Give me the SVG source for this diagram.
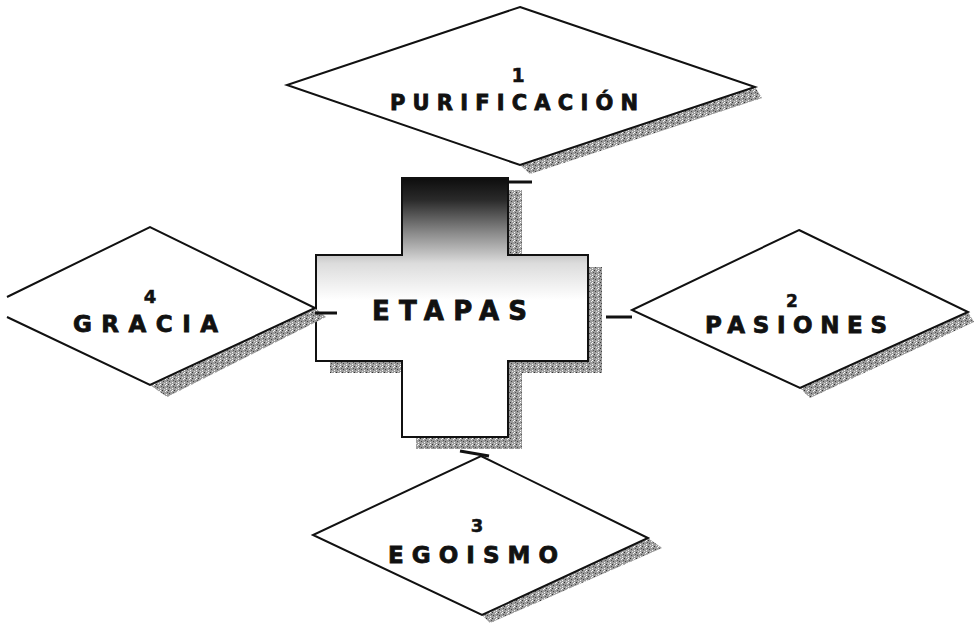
<svg xmlns="http://www.w3.org/2000/svg" width="974" height="623" viewBox="0 0 974 623">
  <style>
    .outline { fill: #ffffff; stroke: #111; stroke-width: 2; stroke-linejoin: miter; }
    .shadow { fill: url(#grain); stroke: none; }
    .label { font-family: "DejaVu Sans", "Open Sans", sans-serif; font-weight: bold; fill: #111; stroke: #111; stroke-width: 0.8; }
    .num { font-family: "DejaVu Sans", "Open Sans", sans-serif; font-weight: bold; fill: #111; stroke: #111; stroke-width: 0.5; text-anchor: middle; }
    .conn { stroke: #111; stroke-width: 3; fill: none; }
  </style>
  <defs>
    <pattern id="grain" width="6" height="6" patternUnits="userSpaceOnUse">
      <rect width="6" height="6" fill="#9c9c9c"/>
      <rect x="0" y="0" width="1" height="1" fill="#333"/>
      <rect x="3" y="1" width="1" height="1" fill="#eee"/>
      <rect x="1" y="3" width="1" height="1" fill="#444"/>
      <rect x="4" y="4" width="1" height="1" fill="#f5f5f5"/>
      <rect x="5" y="2" width="1" height="1" fill="#555"/>
      <rect x="2" y="5" width="1" height="1" fill="#ddd"/>
      <rect x="4" y="0" width="1" height="1" fill="#fff"/>
    </pattern>
    <linearGradient id="crossFill" gradientUnits="userSpaceOnUse" x1="0" y1="178" x2="0" y2="300">
      <stop offset="0" stop-color="#0d0d0d"/>
      <stop offset="0.18" stop-color="#2a2a2a"/>
      <stop offset="0.45" stop-color="#8a8a8a"/>
      <stop offset="0.7" stop-color="#dcdcdc"/>
      <stop offset="1" stop-color="#ffffff"/>
    </linearGradient>
  </defs>
  <rect width="974" height="623" fill="#ffffff"/>

  <g id="node-etapas">
    <path class="shadow" d="M416,190 H522 V267 H602 V373 H522 V449 H416 V373 H330 V267 H416 Z"/>
    <path d="M402,178 H508 V255 H588 V361 H508 V437 H402 V361 H316 V255 H402 Z" fill="url(#crossFill)" stroke="#111" stroke-width="2"/>
    <text class="label" x="372" y="320" font-size="26" textLength="155" lengthAdjust="spacing">ETAPAS</text>
  </g>

  <g id="node-purificacion">
    <polygon class="shadow" points="520,165 755,87 762,98 530,174"/>
    <polygon class="outline" points="520,7 755,87 520,165 287,85"/>
    <text class="num" x="518" y="82" font-size="19">1</text>
    <text class="label" x="390" y="110" font-size="21" textLength="248" lengthAdjust="spacing">PURIFICACIÓN</text>
  </g>

  <g id="node-pasiones">
    <polygon class="shadow" points="800,388 968,312 974,322 810,398"/>
    <polygon class="outline" points="799,230 968,312 800,388 632,310"/>
    <text class="num" x="792" y="307" font-size="17">2</text>
    <text class="label" x="705" y="333" font-size="23" textLength="182" lengthAdjust="spacing">PASIONES</text>
  </g>

  <g id="node-egoismo">
    <polygon class="shadow" points="482,615 648,538 662,548 490,623"/>
    <polygon class="outline" points="481,456 648,538 482,615 313,535"/>
    <text class="num" x="477" y="532" font-size="18">3</text>
    <text class="label" x="388" y="563" font-size="23" textLength="170" lengthAdjust="spacing">EGOISMO</text>
  </g>

  <g id="node-gracia">
    <polygon class="shadow" points="150,385 315,308 326,317 167,397"/>
    <path class="outline" d="M7,297 L150,227 L315,308 L150,385 L7,317"/>
    <text class="num" x="150" y="303" font-size="18">4</text>
    <text class="label" x="73" y="332" font-size="23" textLength="145" lengthAdjust="spacing">GRACIA</text>
  </g>

  <g id="connectors">
    <line class="conn" x1="508" y1="182" x2="532" y2="182"/>
    <line class="conn" x1="315" y1="313" x2="337" y2="313"/>
    <line class="conn" x1="606" y1="317" x2="632" y2="317"/>
    <line class="conn" x1="460" y1="451" x2="489" y2="456"/>
  </g>
</svg>
